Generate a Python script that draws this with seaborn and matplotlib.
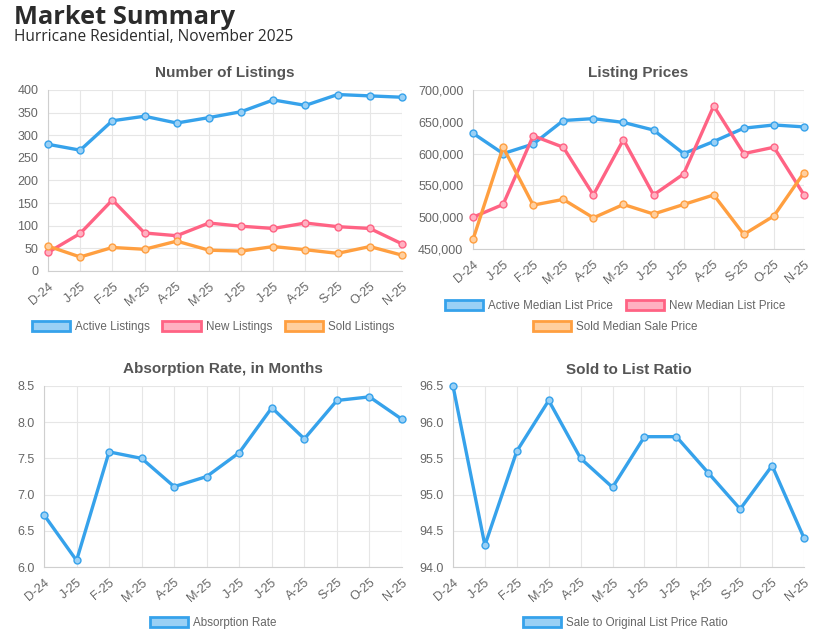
import seaborn as sns
import pandas as pd
import matplotlib.pyplot as plt
from matplotlib.patches import Patch
from matplotlib.ticker import FuncFormatter

months = ['D-24', 'J-25', 'F-25', 'M-25', 'A-25', 'M-25',
          'J-25', 'J-25', 'A-25', 'S-25', 'O-25', 'N-25']

active_listings = [280, 267, 332, 342, 327, 339, 352, 378, 366, 390, 387, 384]
new_listings = [41, 83, 157, 84, 78, 106, 99, 94, 106, 98, 94, 60]
sold_listings = [55, 31, 52, 48, 66, 46, 44, 54, 47, 39, 54, 35]

active_price = [632000, 600000, 615000, 652000, 655000, 649000,
                637000, 600000, 619000, 640000, 645000, 642000]
new_price = [500000, 520000, 628000, 610000, 535000, 622000,
             535000, 568000, 675000, 600000, 610000, 535000]
sold_price = [465000, 610000, 519000, 528000, 499000, 520000,
              505000, 520000, 535000, 473000, 502000, 570000]

absorption = [6.72, 6.09, 7.59, 7.50, 7.11, 7.25, 7.58, 8.20, 7.77, 8.30, 8.35, 8.04]
sold_ratio = [96.5, 94.3, 95.6, 96.3, 95.5, 95.1, 95.8, 95.8, 95.3, 94.8, 95.4, 94.4]

BLUE = '#36a2eb'
PINK = '#ff6384'
ORANGE = '#ff9f40'
LIGHT = {BLUE: '#9ad0f5', PINK: '#ffb1c1', ORANGE: '#ffcf9f'}

sns.set_style('white')
plt.rcParams['font.family'] = ['Liberation Sans', 'DejaVu Sans']

fig = plt.figure(figsize=(8.28, 6.41), dpi=100)
W, H = 828, 641


def px_axes(x0, y0, x1, y1):
    return fig.add_axes([x0 / W, 1 - y1 / H, (x1 - x0) / W, (y1 - y0) / H])


def draw_panel(ax, title, series, ylim, yticks, fmt, legend_rows, legend_y, legend_x):
    idx = list(range(len(months)))
    for label, vals, col in series:
        df = pd.DataFrame({'x': idx, 'y': vals})
        sns.lineplot(data=df, x='x', y='y', ax=ax, color=col, lw=2.4,
                     marker='o', markersize=5, markerfacecolor=LIGHT[col],
                     markeredgecolor=col, markeredgewidth=1.0, zorder=3,
                     clip_on=False)
    ax.set_xlim(0, len(months) - 1)
    ax.set_ylim(*ylim)
    ax.set_xticks(idx)
    ax.set_xticklabels(months, rotation=40, ha='right', rotation_mode='anchor')
    ax.set_yticks(yticks)
    ax.yaxis.set_major_formatter(FuncFormatter(fmt))
    ax.grid(True, color='#e6e6e6', lw=0.8)
    ax.set_axisbelow(True)
    for s in ['top', 'right']:
        ax.spines[s].set_visible(False)
    for s in ['left', 'bottom']:
        ax.spines[s].set_color('#cfcfcf')
        ax.spines[s].set_linewidth(0.8)
    ax.tick_params(axis='both', colors='#e6e6e6', labelcolor='#666666',
                   labelsize=9, length=5, width=0.8, pad=2)
    ax.set_xlabel('')
    ax.set_ylabel('')
    ax.set_title(title, fontsize=11, fontweight='bold', color='#555555', pad=9)
    # legend rows below the plot, centred on the chart canvas
    for row, ly in zip(legend_rows, legend_y):
        handles = [Patch(facecolor=LIGHT[c], edgecolor=c, lw=2, label=l)
                   for l, c in row]
        leg = fig.legend(handles=handles, loc='center',
                         bbox_to_anchor=(legend_x / W, 1 - ly / H),
                         ncol=len(handles), frameon=False, fontsize=8.4,
                         handlelength=3.3, handleheight=1.0, columnspacing=1.1,
                         handletextpad=0.4, borderaxespad=0)
        for t in leg.get_texts():
            t.set_color('#666666')


ax1 = px_axes(48, 90, 402, 271)
draw_panel(ax1, 'Number of Listings',
           [('Active Listings', active_listings, BLUE),
            ('New Listings', new_listings, PINK),
            ('Sold Listings', sold_listings, ORANGE)],
           (0, 400), range(0, 401, 50), lambda v, p: f'{v:.0f}',
           [[('Active Listings', BLUE), ('New Listings', PINK), ('Sold Listings', ORANGE)]],
           [327], 213)

ax2 = px_axes(473, 90, 804, 249)
draw_panel(ax2, 'Listing Prices',
           [('Active Median List Price', active_price, BLUE),
            ('New Median List Price', new_price, PINK),
            ('Sold Median Sale Price', sold_price, ORANGE)],
           (450000, 700000), range(450000, 700001, 50000), lambda v, p: f'{v:,.0f}',
           [[('Active Median List Price', BLUE), ('New Median List Price', PINK)],
            [('Sold Median Sale Price', ORANGE)]],
           [306, 327], 615)

ax3 = px_axes(44, 386, 402, 567)
draw_panel(ax3, 'Absorption Rate, in Months',
           [('Absorption Rate', absorption, BLUE)],
           (6.0, 8.5), [6.0, 6.5, 7.0, 7.5, 8.0, 8.5], lambda v, p: f'{v:.1f}',
           [[('Absorption Rate', BLUE)]], [623], 213)

ax4 = px_axes(453, 386, 804, 567)
draw_panel(ax4, 'Sold to List Ratio',
           [('Sale to Original List Price Ratio', sold_ratio, BLUE)],
           (94.0, 96.5), [94.0, 94.5, 95.0, 95.5, 96.0, 96.5], lambda v, p: f'{v:.1f}',
           [[('Sale to Original List Price Ratio', BLUE)]], [623], 625)

fig.text(14 / W, 1 - 17 / H, 'Market Summary', fontsize=18.3, fontweight='bold',
         color='#2b2b2b', family=['Open Sans', 'DejaVu Sans'], va='center')
fig.text(14 / W, 1 - 37 / H, 'Hurricane Residential, November 2025', fontsize=11.2,
         color='#2b2b2b', family=['Open Sans', 'DejaVu Sans'], va='center')

fig.savefig('out.png', dpi=100)
